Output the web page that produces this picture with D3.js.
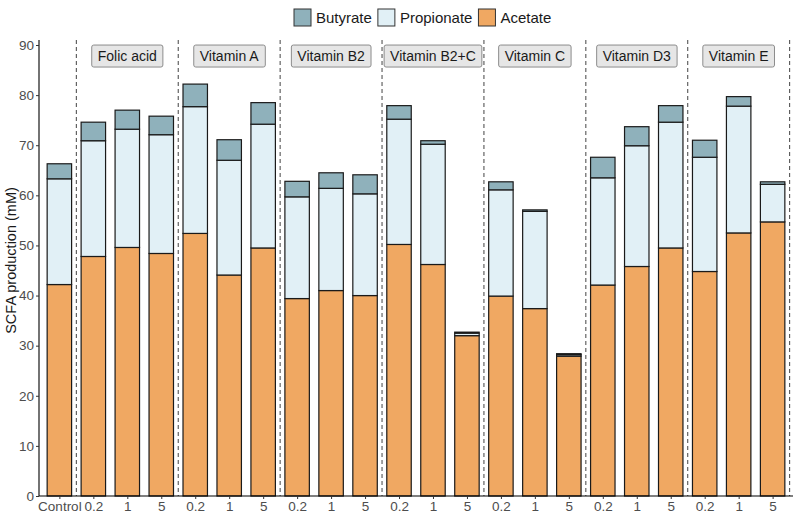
<!DOCTYPE html>
<html><head><meta charset="utf-8">
<script src="https://cdn.jsdelivr.net/npm/d3@7"></script>
<style>body{margin:0;background:#fff;} svg{display:block;font-family:"Liberation Sans",Arial,sans-serif;}</style>
</head><body>
<svg id="chart" width="800" height="527"></svg>
<script>
const categories = ["Control","0.2","1","5","0.2","1","5","0.2","1","5","0.2","1","5","0.2","1","5","0.2","1","5","0.2","1","5"];
const groups = ["Folic acid","Vitamin A","Vitamin B2","Vitamin B2+C","Vitamin C","Vitamin D3","Vitamin E"];
const acetate    = [42.2,47.8,49.6,48.4,52.4,44.1,49.5,39.4,41.0,40.0,50.2,46.2,32.0,39.9,37.4,27.9,42.1,45.8,49.5,44.8,52.5,54.7];
const propionate = [21.1,23.1,23.6,23.7,25.3,22.9,24.7,20.3,20.4,20.3,25.0,24.0,0.5,21.2,19.4,0.3,21.4,24.1,25.1,22.8,25.3,7.5];
const butyrate   = [3.0,3.7,3.8,3.7,4.5,4.1,4.3,3.1,3.1,3.8,2.7,0.7,0.2,1.6,0.3,0.2,4.1,3.8,3.3,3.4,1.9,0.5];
const yTicks = [0,10,20,30,40,50,60,70,80,90];
const seriesNames = ["Butyrate","Propionate","Acetate"];
const colors = {Acetate:"#f0a862", Propionate:"#e1f0f6", Butyrate:"#8fb1bb"};

const svg = d3.select("#chart");
const x = d3.scaleLinear().domain([0.4, 22.6]).range([39, 793]);
const y = d3.scaleLinear().domain([0, 91]).range([496, 40]);
const step = x(2) - x(1);
const bw = step * 0.72;

// dashed separators
const seps = [1.5,4.5,7.5,10.5,13.5,16.5,19.5,22.5];
svg.append("g").selectAll("line").data(seps).join("line")
  .attr("x1", d=>x(d)).attr("x2", d=>x(d)).attr("y1", y(91)).attr("y2", y(0))
  .attr("stroke","#555").attr("stroke-width",1.1).attr("stroke-dasharray","4,3");

// stacked bars
const data = categories.map((c,i)=>({i:i+1, Acetate:acetate[i], Propionate:propionate[i], Butyrate:butyrate[i]}));
const stack = d3.stack().keys(["Acetate","Propionate","Butyrate"])(data);
svg.append("g").selectAll("g").data(stack).join("g")
  .attr("fill", d=>colors[d.key])
  .selectAll("rect").data(d=>d).join("rect")
  .attr("x", d=>x(d.data.i)-bw/2).attr("width", bw)
  .attr("y", d=>y(d[1])).attr("height", d=>y(d[0])-y(d[1]))
  .attr("stroke","#1a1a1a").attr("stroke-width",1.2);

// group labels
const lg = svg.append("g").selectAll("g").data(groups).join("g")
  .attr("transform",(d,i)=>`translate(${x(3+3*i)},${y(87.8)})`);
lg.append("text").text(d=>d).attr("text-anchor","middle").attr("dy","0.36em")
  .attr("font-size",14).attr("fill","#1a1a1a");
lg.each(function(){
  const g = d3.select(this);
  const bb = g.select("text").node().getBBox();
  g.insert("rect","text").attr("x",bb.x-6).attr("y",-11).attr("width",bb.width+12).attr("height",22)
   .attr("rx",2).attr("fill","#e6e6e6").attr("stroke","#8c8c8c").attr("stroke-width",1);
});

// axes
const yAxis = d3.axisLeft(y).tickValues(yTicks).tickSize(3).tickPadding(2);
const gy = svg.append("g").attr("transform",`translate(${x(0.4)},0)`).call(yAxis);
gy.select(".domain").attr("d",`M0,${y(91)}V${y(0)}`).attr("stroke","#000").attr("stroke-width",1.1);
gy.selectAll(".tick line").attr("stroke","#333");
gy.selectAll(".tick text").attr("font-size",13.5).attr("fill","#4d4d4d").attr("font-family","Liberation Sans, Arial, sans-serif");

const xAxis = d3.axisBottom(x).tickValues(d3.range(1,23)).tickFormat(d=>categories[d-1]).tickSize(3).tickPadding(2);
const gx = svg.append("g").attr("transform",`translate(0,${y(0)})`).call(xAxis);
gx.select(".domain").attr("d",`M${x(0.4)},0H${x(22.6)}`).attr("stroke","#000").attr("stroke-width",1.1);
gx.selectAll(".tick line").attr("stroke","#333");
gx.selectAll(".tick text").attr("font-size",13.5).attr("fill","#4d4d4d").attr("font-family","Liberation Sans, Arial, sans-serif");

svg.append("text").text("SCFA production (mM)")
  .attr("transform",`translate(11,${y(47)}) rotate(-90)`).attr("text-anchor","middle")
  .attr("dy","0.35em").attr("font-size",14.5).attr("fill","#1a1a1a");

// legend
const legend = svg.append("g").attr("transform","translate(294,9)");
let lx = 0;
seriesNames.forEach(n=>{
  const g = legend.append("g").attr("transform",`translate(${lx},0)`);
  g.append("rect").attr("width",17).attr("height",17).attr("fill",colors[n]).attr("stroke","#333").attr("stroke-width",1);
  const t = g.append("text").text(n).attr("x",22).attr("y",8.5).attr("dy","0.36em").attr("font-size",15).attr("fill","#1a1a1a");
  lx += 22 + t.node().getComputedTextLength() + 6;
});
</script>
</body></html>
